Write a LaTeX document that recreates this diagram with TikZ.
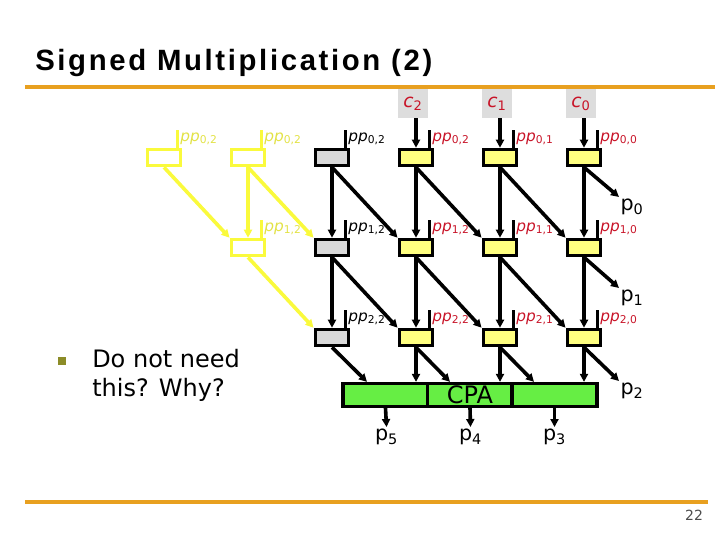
\documentclass[tikz,border=0pt]{standalone}
\usepackage{fontspec}
\setmainfont{DejaVu Sans}
\newfontfamily\titlefont[LetterSpace=9]{Liberation Sans}
\usetikzlibrary{arrows.meta,calc}

\definecolor{slideorange}{RGB}{232,160,32}
\definecolor{cellyellow}{RGB}{255,255,128}
\definecolor{cellgray}{RGB}{217,217,217}
\definecolor{cingray}{RGB}{221,221,221}
\definecolor{ghostyellow}{RGB}{250,250,60}
\definecolor{ghosttext}{RGB}{226,226,70}
\definecolor{labelred}{RGB}{200,20,40}
\definecolor{cpagreen}{RGB}{102,238,68}
\definecolor{bulletolive}{RGB}{140,140,40}

\newcommand{\ppin}[4]{%
  \draw[ppline,#2] ($(#1.north east)+(-5,0)$) -- ++(0,-18)
    node[pplabel,#3] {\textit{pp}\textsubscript{#4}};}

\tikzset{
  cell/.style={draw,line width=2.7pt,minimum width=25pt,minimum height=12pt,inner sep=0pt},
  facell/.style={cell,fill=cellyellow},
  graycell/.style={cell,fill=cellgray},
  ghostcell/.style={cell,draw=ghostyellow,fill=white},
  cin/.style={fill=cingray,minimum width=22.5pt,minimum height=21.75pt,inner sep=0pt,
    text=labelred,font=\fontsize{14}{16}\selectfont},
  cpabox/.style={draw,fill=cpagreen,line width=2.7pt,minimum width=63.75pt,minimum height=17pt,
    inner sep=0pt,font=\fontsize{18}{18}\selectfont},
  wire/.style={line width=2.7pt,->},
  ghostwire/.style={wire,ghostyellow},
  ppline/.style={line width=2.4pt},
  pplabel/.style={anchor=north west,inner sep=1pt,font=\fontsize{11.5}{14}\selectfont},
  plabel/.style={inner sep=1pt,font=\fontsize{15.5}{18}\selectfont},
  rule/.style={slideorange,line width=3pt}
}

\begin{document}
\begin{tikzpicture}[x=0.75pt,y=-0.75pt,>={Triangle[length=6pt,width=6pt]}]
\useasboundingbox (0,0) rectangle (720,540);
% slide frame
\node[anchor=base west,inner sep=0pt,font=\titlefont\bfseries\fontsize{22}{24}\selectfont] (title) at (35,70) {Signed Multiplication (2)};
\draw[rule] (25,87) -- (715,87);
\draw[rule] (25,502) -- (708,502);
\node[text=black!70,font=\fontsize{10.5}{12}\selectfont] (num) at (694,515) {22};
\node[fill=bulletolive,minimum size=6pt,inner sep=0pt] (bul) at (62,361) {};
\node[anchor=north west,inner sep=0pt,align=left,font=\fontsize{18}{21.75}\selectfont] (why) at (92,349) {Do not need\\this? Why?};
% carry inputs
\node[cin] (c2) at (413,103.5) {\textit{c}\textsubscript{2}};
\node[cin] (c1) at (497,103.5) {\textit{c}\textsubscript{1}};
\node[cin] (c0) at (581,103.5) {\textit{c}\textsubscript{0}};
% cells
\node[ghostcell] (r0c0) at (164,157.5) {};
\node[ghostcell] (r0c1) at (248,157.5) {};
\node[graycell] (r0c2) at (332,157.5) {};
\node[facell] (r0c3) at (416,157.5) {};
\node[facell] (r0c4) at (500,157.5) {};
\node[facell] (r0c5) at (584,157.5) {};
\node[ghostcell] (r1c1) at (248,247.5) {};
\node[graycell] (r1c2) at (332,247.5) {};
\node[facell] (r1c3) at (416,247.5) {};
\node[facell] (r1c4) at (500,247.5) {};
\node[facell] (r1c5) at (584,247.5) {};
\node[graycell] (r2c2) at (332,337.5) {};
\node[facell] (r2c3) at (416,337.5) {};
\node[facell] (r2c4) at (500,337.5) {};
\node[facell] (r2c5) at (584,337.5) {};
% adder
\node[cpabox] (cpaA) at (385.5,395) {};
\node[cpabox] (cpaB) at (470,395) {CPA};
\node[cpabox] (cpaC) at (554.5,395) {};
% products
\node[plabel,anchor=north west] (p0) at (619,197) {p\textsubscript{0}};
\node[plabel,anchor=north west] (p1) at (619,288) {p\textsubscript{1}};
\node[plabel,anchor=north west] (p2) at (619,381) {p\textsubscript{2}};
\node[plabel,anchor=north] (p5) at (386.5,427) {p\textsubscript{5}};
\node[plabel,anchor=north] (p4) at (470.5,427) {p\textsubscript{4}};
\node[plabel,anchor=north] (p3) at (554.5,427) {p\textsubscript{3}};
% partial products
\ppin{r0c0}{ghostyellow}{ghosttext}{0,2}
\ppin{r0c1}{ghostyellow}{ghosttext}{0,2}
\ppin{r0c2}{black}{black}{0,2}
\ppin{r0c3}{black}{labelred}{0,2}
\ppin{r0c4}{black}{labelred}{0,1}
\ppin{r0c5}{black}{labelred}{0,0}
\ppin{r1c1}{ghostyellow}{ghosttext}{1,2}
\ppin{r1c2}{black}{black}{1,2}
\ppin{r1c3}{black}{labelred}{1,2}
\ppin{r1c4}{black}{labelred}{1,1}
\ppin{r1c5}{black}{labelred}{1,0}
\ppin{r2c2}{black}{black}{2,2}
\ppin{r2c3}{black}{labelred}{2,2}
\ppin{r2c4}{black}{labelred}{2,1}
\ppin{r2c5}{black}{labelred}{2,0}
% unneeded sign cells
\draw[ghostwire] (r0c0.south) -- (r1c1.north west);
\draw[ghostwire] (r0c1.south) -- (r1c1.north);
\draw[ghostwire] (r0c1.south) -- (r1c2.north west);
\draw[ghostwire] (r1c1.south) -- (r2c2.north west);
% carries in
\draw[wire] (c2.south -| r0c3.north) -- (r0c3.north);
\draw[wire] (c1.south -| r0c4.north) -- (r0c4.north);
\draw[wire] (c0.south -| r0c5.north) -- (r0c5.north);
% row 0 to row 1
\draw[wire] (r0c2.south) -- (r1c2.north);
\draw[wire] (r0c3.south) -- (r1c3.north);
\draw[wire] (r0c4.south) -- (r1c4.north);
\draw[wire] (r0c5.south) -- (r1c5.north);
\draw[wire] (r0c2.south) -- (r1c3.north west);
\draw[wire] (r0c3.south) -- (r1c4.north west);
\draw[wire] (r0c4.south) -- (r1c5.north west);
\draw[wire] (r0c5.south) -- (p0.north west);
% row 1 to row 2
\draw[wire] (r1c2.south) -- (r2c2.north);
\draw[wire] (r1c3.south) -- (r2c3.north);
\draw[wire] (r1c4.south) -- (r2c4.north);
\draw[wire] (r1c5.south) -- (r2c5.north);
\draw[wire] (r1c2.south) -- (r2c3.north west);
\draw[wire] (r1c3.south) -- (r2c4.north west);
\draw[wire] (r1c4.south) -- (r2c5.north west);
\draw[wire] (r1c5.south) -- (p1.north west);
% row 2 to adder
\coordinate (d2) at ($(r2c2.south)+(35,0)$);
\coordinate (d3) at ($(r2c3.south)+(34,0)$);
\coordinate (d4) at ($(r2c4.south)+(34,0)$);
\draw[wire] (r2c2.south) -- (d2 |- cpaA.north);
\draw[wire] (r2c3.south) -- (r2c3.south |- cpaA.north);
\draw[wire] (r2c3.south) -- (d3 |- cpaB.north);
\draw[wire] (r2c4.south) -- (r2c4.south |- cpaB.north);
\draw[wire] (r2c4.south) -- (d4 |- cpaC.north);
\draw[wire] (r2c5.south) -- (r2c5.south |- cpaC.north);
\draw[wire] (r2c5.south) -- (p2.north west);
% adder outputs
\draw[wire] (cpaA.south) -- (p5.north);
\draw[wire] (cpaB.south) -- (p4.north);
\draw[wire] (cpaC.south) -- (p3.north);
\end{tikzpicture}
\end{document}
